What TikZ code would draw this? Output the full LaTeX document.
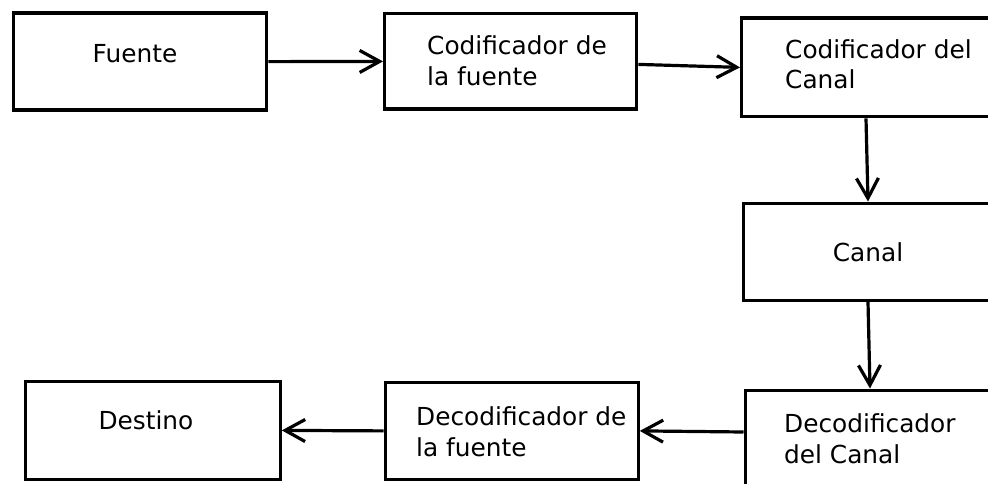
\documentclass[tikz,border=0pt]{standalone}
\usepackage{fontspec}
\setmainfont{DejaVu Sans}
\usetikzlibrary{arrows.meta}
\begin{document}
\begin{tikzpicture}[x=1pt,y=-1pt,
  box/.style={draw,line width=3.3pt,rectangle,inner sep=0pt,anchor=north west},
  lbl/.style={font=\fontsize{24.8}{30.5}\selectfont,inner sep=0pt,align=left},
  conn/.style={line width=3.2pt,-{Straight Barb[length=20pt,width=22pt]}}]
\useasboundingbox (0,0) rectangle (988,484);
\clip (0,0) rectangle (988,484);
\fill[white] (0,0) rectangle (988,484);
% boxes
\node[box,minimum width=253.5pt,minimum height=97pt] (b1) at (11.5,11.5) {};
\node[box,minimum width=252pt,minimum height=95.5pt] (b2) at (383,12) {};
\node[box,minimum width=260pt,minimum height=98.5pt] (b3) at (740,16.5) {};
\node[box,minimum width=258pt,minimum height=97pt] (b4) at (742,201.5) {};
\node[box,minimum width=258pt,minimum height=110pt] (b5) at (743.5,388.5) {};
\node[box,minimum width=253pt,minimum height=96.5pt] (b6) at (383.5,381) {};
\node[box,minimum width=255pt,minimum height=97.5pt] (b7) at (23.5,380) {};
% labels (base = baseline of the last line)
\node[lbl,anchor=base] (t1) at (135,63) {Fuente};
\node[lbl,anchor=base west] (t2) at (427,85.5) {Codificador de\\la fuente};
\node[lbl,anchor=base west] (t3) at (785,89) {Codificador del\\Canal};
\node[lbl,anchor=base] (t4) at (868,261) {Canal};
\node[lbl,anchor=base west] (t5) at (784,463) {Decodificador\\del Canal};
\node[lbl,anchor=base west] (t6) at (416,456) {Decodificador de\\la fuente};
\node[lbl,anchor=base] (t7) at (146,429) {Destino};
% connectors
\draw[conn] (b1.east) -- (b2.west);
\draw[conn] ([yshift=-3pt]b2.east) -- (b3.west);
\draw[conn] ([xshift=126pt]b3.south west) -- ([xshift=126pt]b4.north west);
\draw[conn] ([xshift=126pt]b4.south west) -- ([xshift=126.5pt]b5.north west);
\draw[conn] ([yshift=-43.5pt]b5.north west) -- (b6.east);
\draw[conn] (b6.west) -- (b7.east);
\end{tikzpicture}
\end{document}
